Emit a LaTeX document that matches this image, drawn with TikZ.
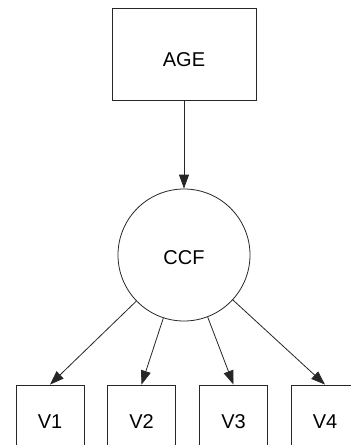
\documentclass[tikz,border=0pt]{standalone}
\usepackage{fontspec}
\setmainfont{Liberation Sans}
\usetikzlibrary{arrows.meta}
\begin{document}
\begin{tikzpicture}[x=1pt,y=-1pt,
  every node/.style={font=\fontsize{20}{24}\selectfont, line width=0.8pt, draw=black!85, inner sep=0pt},
  varbox/.style={rectangle, minimum width=68pt, minimum height=74pt},
  agebox/.style={rectangle, minimum width=144pt, minimum height=92pt, text height=24pt, text depth=0pt},
  latent/.style={circle, minimum size=132pt, text height=18pt, text depth=0pt},
  conn/.style={line width=0.8pt, draw=black!85, -{Triangle[length=14pt,width=10pt]}}]
\clip (0,0) rectangle (351,445);
\fill[white] (0,0) rectangle (351,445);
\node[agebox] (age) at (184,54) {AGE};
\node[latent] (ccf) at (184,255) {CCF};
\node[varbox] (v1) at (50,422) {V1};
\node[varbox] (v2) at (141.5,422) {V2};
\node[varbox] (v3) at (233.5,422) {V3};
\node[varbox] (v4) at (325,422) {V4};
\draw[conn] (age) -- (ccf);
\draw[conn] (ccf) -- (v1.north);
\draw[conn] (ccf) -- (v2.north);
\draw[conn] (ccf) -- (v3.north);
\draw[conn] (ccf) -- (v4.north);
\end{tikzpicture}
\end{document}
